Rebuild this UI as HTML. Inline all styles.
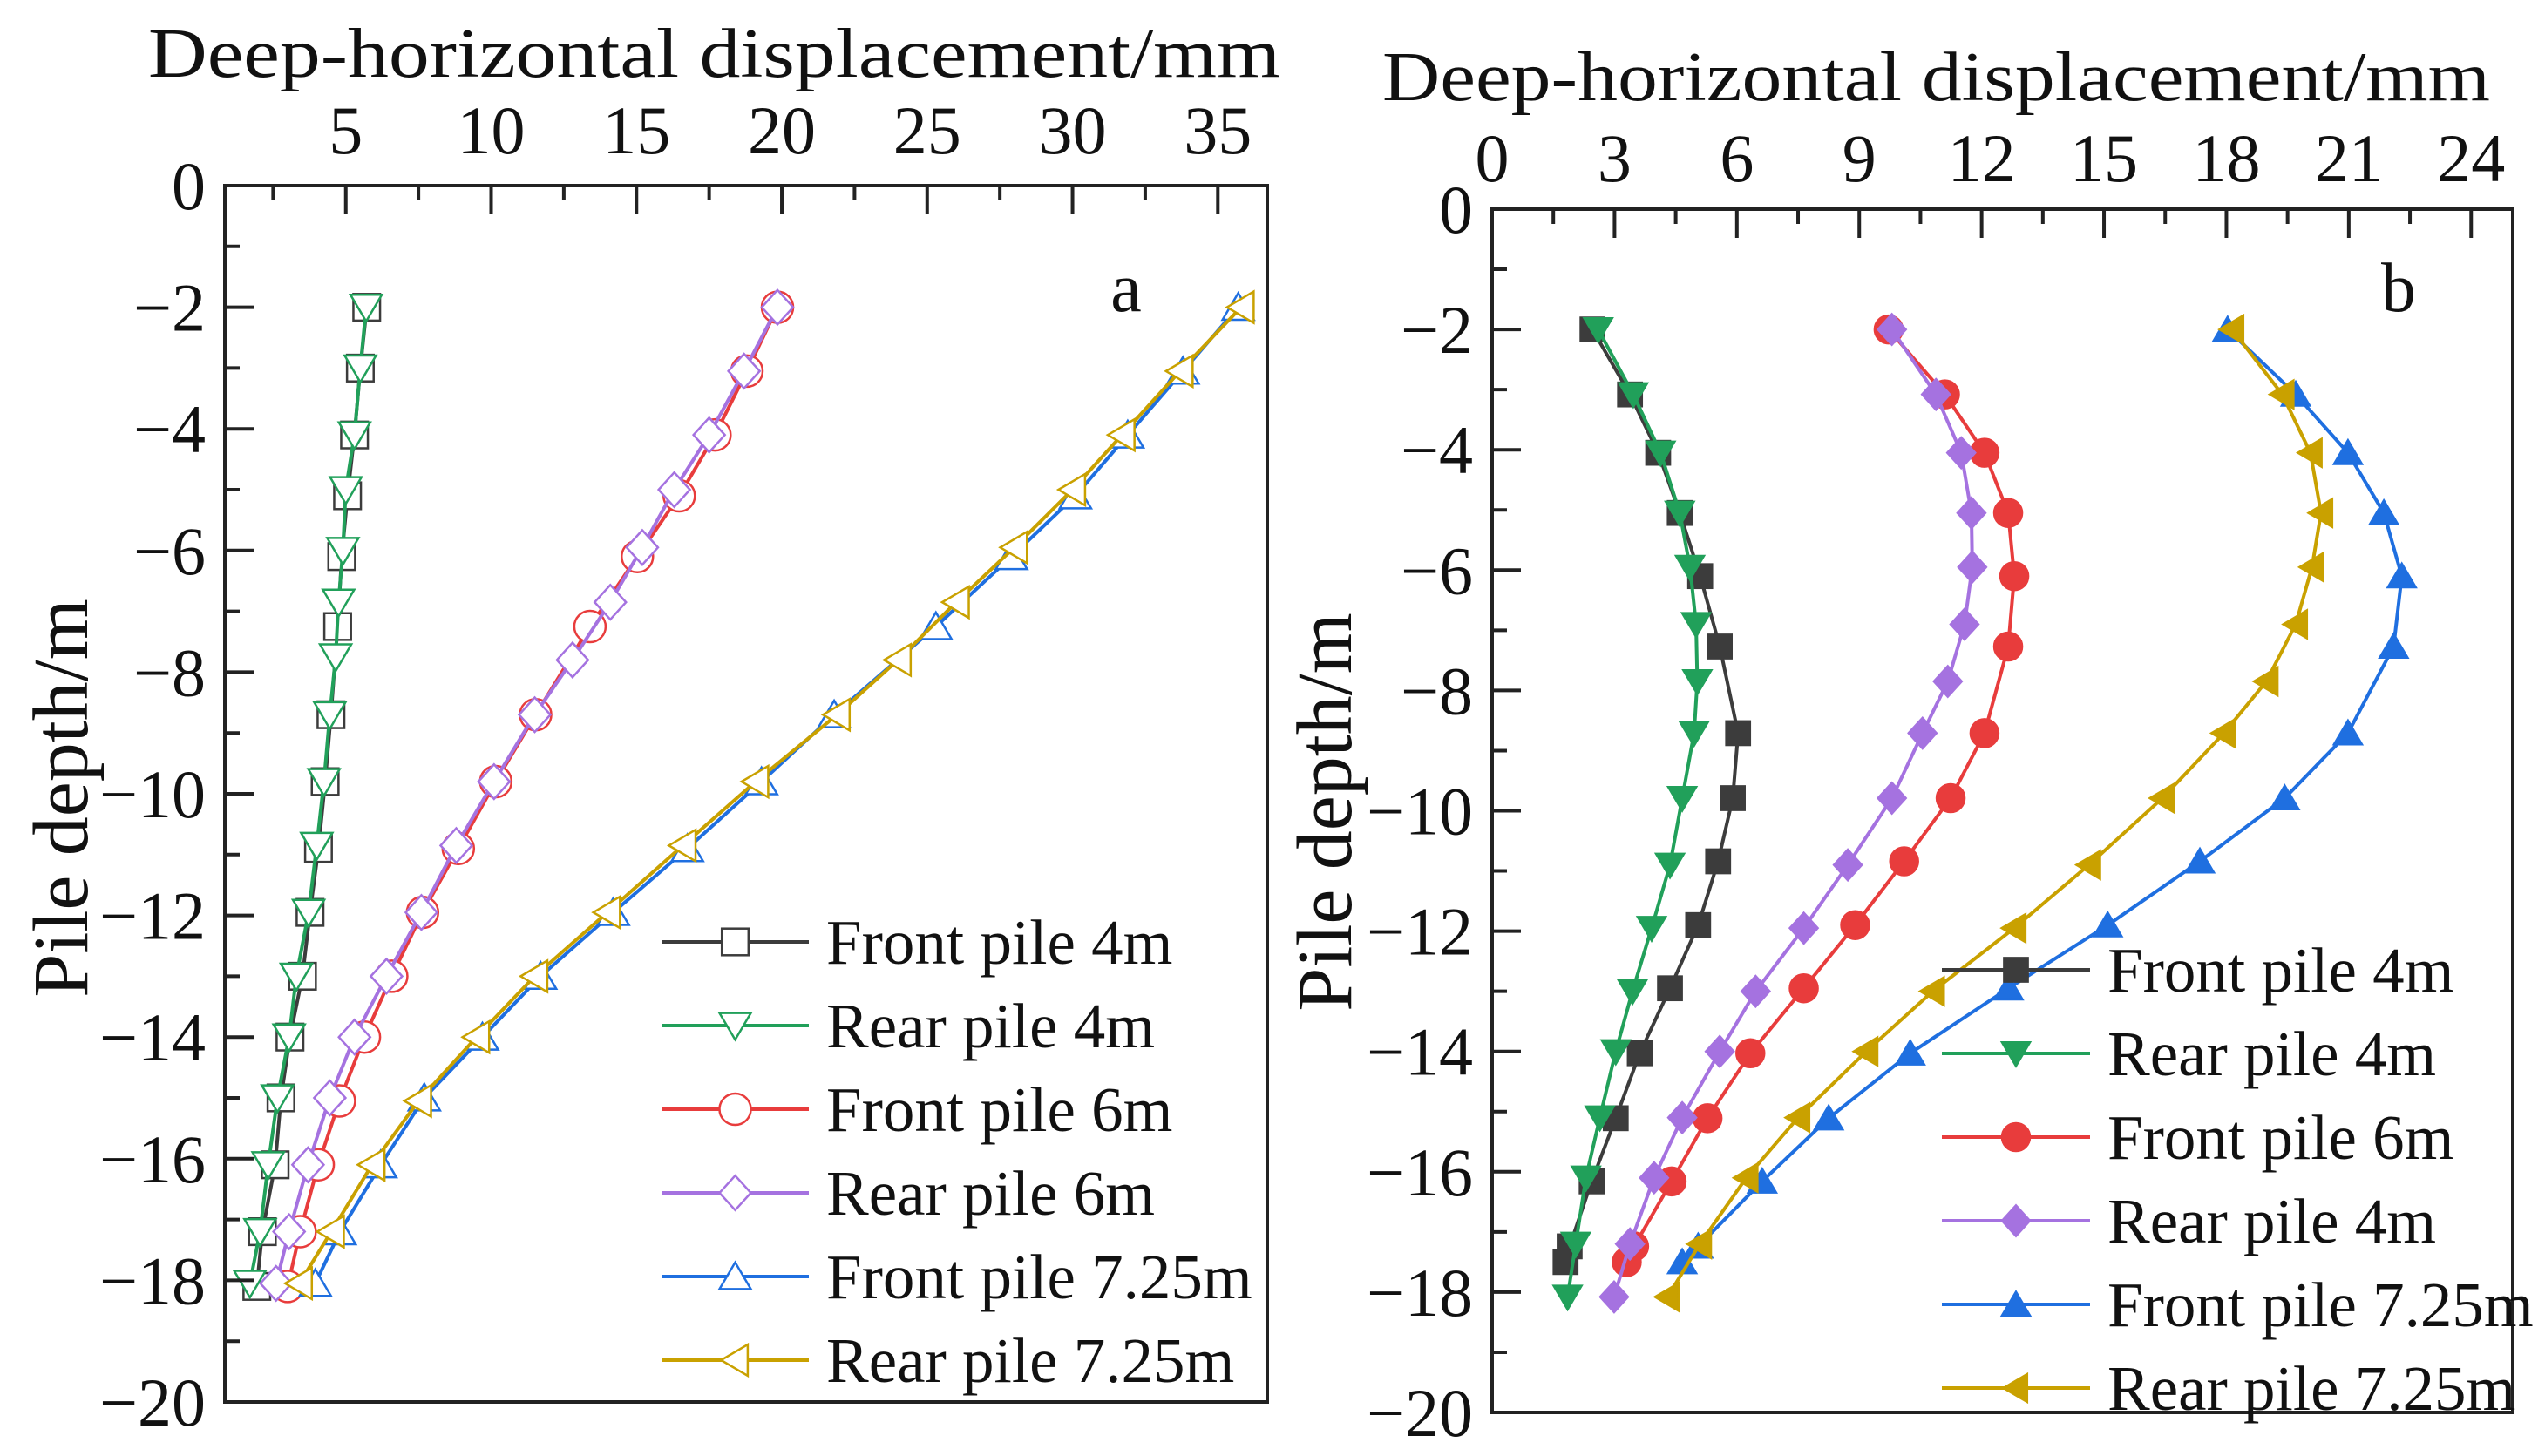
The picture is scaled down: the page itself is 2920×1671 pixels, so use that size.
<!DOCTYPE html>
<html><head><meta charset="utf-8"><style>
html,body{margin:0;padding:0;background:#fff;}
svg text{font-family:"Liberation Serif",serif;fill:#111;}
</style></head><body>
<svg id="chart" width="2920" height="1666" viewBox="0 0 2920 1666" xmlns="http://www.w3.org/2000/svg"></svg>
<script>
// ---------- Panel a data ----------
const aXTicks = [5,10,15,20,25,30,35];
const aYTicks = [0,-2,-4,-6,-8,-10,-12,-14,-16,-18,-20];
const aNames = ["Front pile 4m","Rear pile 4m","Front pile 6m","Rear pile 6m","Front pile 7.25m","Rear pile 7.25m"];
const aFront4Depth = [-2,-3,-4.1,-5.1,-6.1,-7.25,-8.7,-9.8,-10.9,-11.95,-13,-14,-15,-16.1,-17.2,-18.1];
const aFront4 = [5.72,5.5,5.3,5.06,4.86,4.72,4.49,4.29,4.06,3.77,3.51,3.08,2.77,2.57,2.13,1.94];
const aRear4Depth = [-2,-3,-4.1,-5,-6,-6.85,-7.75,-8.7,-9.8,-10.85,-11.95,-13,-14,-15,-16.1,-17.2,-18.05];
const aRear4 = [5.7,5.5,5.3,5.0,4.9,4.75,4.65,4.45,4.25,4.0,3.72,3.3,3.05,2.65,2.33,2.05,1.7];
const aFront6Depth = [-2,-3.05,-4.1,-5.1,-6.1,-7.25,-8.7,-9.8,-10.9,-11.95,-13,-14,-15.05,-16.1,-17.2,-18.1];
const aFront6 = [19.85,18.8,17.7,16.47,15.03,13.4,11.53,10.16,8.87,7.64,6.58,5.64,4.78,4.05,3.43,3.0];
const aRear6Depth = [-2,-3.05,-4.1,-5,-5.95,-6.85,-7.8,-8.7,-9.8,-10.85,-11.95,-13,-14,-15,-16.1,-17.2,-18.05];
const aRear6 = [19.85,18.7,17.5,16.3,15.2,14.1,12.8,11.5,10.1,8.8,7.6,6.4,5.3,4.45,3.7,3.05,2.6];
const aFront7Depth = [-2,-3.05,-4.1,-5.1,-6.1,-7.25,-8.7,-9.8,-10.9,-11.95,-13,-14,-15,-16.1,-17.2,-18.05];
const aFront7 = [35.7,33.8,31.9,30.1,27.9,25.3,21.8,19.3,16.75,14.2,11.7,9.7,7.7,6.2,4.8,3.95];
const aRear7Depth = [-2,-3.05,-4.1,-5,-5.95,-6.85,-7.8,-8.7,-9.8,-10.85,-11.95,-13,-14,-15.05,-16.1,-17.2,-18.05];
const aRear7 = [35.8,33.7,31.7,30.0,28.0,26.0,24.0,21.9,19.1,16.6,14.0,11.5,9.5,7.5,5.9,4.5,3.4];

// ---------- Panel b data ----------
const bXTicks = [0,3,6,9,12,15,18,21,24];
const bYTicks = [0,-2,-4,-6,-8,-10,-12,-14,-16,-18,-20];
const bNames = ["Front pile 4m","Rear pile 4m","Front pile 6m","Rear pile 4m","Front pile 7.25m","Rear pile 7.25m"];
const bDepthA = [-2,-3.08,-4.05,-5.05,-6.1,-7.27,-8.71,-9.79,-10.84,-11.9,-12.95,-14.03,-15.11,-16.16,-17.24,-17.5];
const bDepthB = [-2,-3.08,-4.05,-5.05,-5.95,-6.9,-7.85,-8.71,-9.79,-10.9,-11.95,-13,-14,-15.1,-16.1,-17.2,-18.08];
const bFront4 = [2.46,3.38,4.07,4.6,5.1,5.58,6.03,5.9,5.54,5.05,4.36,3.62,3.03,2.44,1.9,1.8];
const bRear4 = [2.6,3.46,4.13,4.6,4.85,5.0,5.03,4.95,4.66,4.36,3.91,3.44,3.03,2.64,2.3,2.05,1.85];
const bFront6 = [9.72,11.1,12.07,12.65,12.8,12.65,12.07,11.24,10.1,8.9,7.64,6.33,5.28,4.4,3.48,3.3];
const bRear4b = [9.8,10.88,11.5,11.75,11.77,11.58,11.17,10.55,9.8,8.72,7.64,6.46,5.58,4.66,3.97,3.38,2.99];
const bFront7 = [18.03,19.7,20.98,21.86,22.3,22.1,20.98,19.43,17.35,15.09,12.66,10.25,8.25,6.62,5.05,4.66];
const bRear7 = [18.14,19.37,20.06,20.32,20.1,19.7,18.98,17.94,16.43,14.63,12.8,10.8,9.17,7.5,6.23,5.09,4.3];

const NS="http://www.w3.org/2000/svg";
const svg=document.getElementById('chart');
function mk(tag,attrs,parent){const e=document.createElementNS(NS,tag);for(const k in attrs)e.setAttribute(k,attrs[k]);(parent||svg).appendChild(e);return e;}

const colors={black:"#3c3c3c",green:"#21a05a",red:"#e83c3c",purple:"#a572e0",blue:"#1f6fe0",gold:"#c9a100"};

function marker(g,type,cx,cy,col,filled){
  const r=filled?16:18;let e;
  const fill=filled?col:"#fff";
  if(type==="square"){e=mk('rect',{x:cx-r*0.85,y:cy-r*0.85,width:r*1.7,height:r*1.7,fill:fill,stroke:col,'stroke-width':2.5},g);}
  else if(type==="circle"){e=mk('circle',{cx:cx,cy:cy,r:r,fill:fill,stroke:col,'stroke-width':2.5},g);}
  else{
    let p;
    if(type==="down")p=[[cx-r,cy-r*0.8],[cx+r,cy-r*0.8],[cx,cy+r*0.9]];
    else if(type==="up")p=[[cx-r,cy+r*0.8],[cx+r,cy+r*0.8],[cx,cy-r*0.9]];
    else if(type==="left")p=[[cx+r*0.8,cy-r],[cx+r*0.8,cy+r],[cx-r*0.9,cy]];
    else p=[[cx,cy-r*1.1],[cx+r,cy],[cx,cy+r*1.1],[cx-r,cy]];
    e=mk('polygon',{points:p.map(q=>q.join(',')).join(' '),fill:fill,stroke:col,'stroke-width':2.5},g);
  }
  
  
}

function panel(cfg){
  const g=mk('g',{});
  
  
  const X=v=>cfg.L+(v-cfg.xmin)/(cfg.xmax-cfg.xmin)*(cfg.R-cfg.L);
  const Y=v=>cfg.T+(0-v)/20*(cfg.B-cfg.T);
  cfg.series.forEach((s,i)=>{
    const sg=mk('g',{},g);
    
    
    const pts=s.x.map((v,j)=>X(v).toFixed(1)+','+Y(s.y[j]).toFixed(1)).join(' ');
    mk('polyline',{points:pts,fill:'none',stroke:s.col,'stroke-width':4},sg);
    s.x.forEach((v,j)=>marker(sg,s.m,X(v),Y(s.y[j]),s.col,cfg.filled));
  });
  const fr=mk('rect',{x:cfg.L,y:cfg.T,width:cfg.R-cfg.L,height:cfg.B-cfg.T,fill:'none',stroke:'#222','stroke-width':4},g);
  
  
  cfg.xTicks.forEach(v=>{
    mk('line',{x1:X(v),y1:cfg.T,x2:X(v),y2:cfg.T+33,stroke:'#222','stroke-width':4},g);
    const t=mk('text',{x:X(v),y:cfg.xLabY,'font-size':78,'text-anchor':'middle'},g);
    t.textContent=v;
    
    
  });
  for(let v=cfg.xTicks[0]-cfg.xMinor;v<=cfg.xmax;v+=cfg.xMinor*2){
    if(v>cfg.xmin) mk('line',{x1:X(v),y1:cfg.T,x2:X(v),y2:cfg.T+17,stroke:'#222','stroke-width':4},g);
  }
  cfg.yTicks.forEach(v=>{
    mk('line',{x1:cfg.L,y1:Y(v),x2:cfg.L+33,y2:Y(v),stroke:'#222','stroke-width':4},g);
    const t=mk('text',{x:cfg.L-22,y:Y(v)+27,'font-size':78,'text-anchor':'end'},g);
    t.textContent=v===0?"0":"\u2212"+Math.abs(v);
    
    
  });
  for(let v=-1;v>-20;v-=2) mk('line',{x1:cfg.L,y1:Y(v),x2:cfg.L+17,y2:Y(v),stroke:'#222','stroke-width':4},g);
  const xt=mk('text',{x:cfg.xtX,y:cfg.xtY,'font-size':80,textLength:cfg.xtW,lengthAdjust:'spacingAndGlyphs'},g);
  xt.textContent="Deep-horizontal displacement/mm";
  
  
  const yt=mk('text',{x:0,y:0,'font-size':90,'text-anchor':'middle',transform:`translate(${cfg.ytX},${cfg.ytY}) rotate(-90)`},g);
  yt.textContent="Pile depth/m";
  
  
  const pl=mk('text',{x:cfg.letX,y:cfg.letY,'font-size':80,'text-anchor':'middle'},g);
  pl.textContent=cfg.id;
  
  
  const lg=mk('g',{},g);
  
  
  cfg.series.forEach((s,i)=>{
    const y=cfg.legY+i*96;
    const eg=mk('g',{},lg);
    
    
    mk('line',{x1:cfg.legX1,y1:y,x2:cfg.legX2,y2:y,stroke:s.col,'stroke-width':4},eg);
    marker(eg,s.m,(cfg.legX1+cfg.legX2)/2,y,s.col,cfg.filled);
    const t=mk('text',{x:cfg.legX2+20,y:y+25,'font-size':73},eg);
    t.textContent=s.name;
  });
}

panel({id:'a',L:258,R:1454,T:213,B:1609,xmin:0.84,xmax:36.7,xTicks:aXTicks,xMinor:2.5,yTicks:aYTicks,filled:false,
  xLabY:176,xtX:170,xtY:88,xtW:1299,ytX:100,ytY:916,letX:1292,letY:357,legX1:759,legX2:928,legY:1081,
  series:[
    {name:aNames[0],x:aFront4,y:aFront4Depth,col:colors.black,m:'square'},
    {name:aNames[1],x:aRear4,y:aRear4Depth,col:colors.green,m:'down'},
    {name:aNames[2],x:aFront6,y:aFront6Depth,col:colors.red,m:'circle'},
    {name:aNames[3],x:aRear6,y:aRear6Depth,col:colors.purple,m:'diamond'},
    {name:aNames[4],x:aFront7,y:aFront7Depth,col:colors.blue,m:'up'},
    {name:aNames[5],x:aRear7,y:aRear7Depth,col:colors.gold,m:'left'}]});
panel({id:'b',L:1712,R:2883,T:240,B:1621,xmin:0,xmax:25.02,xTicks:bXTicks,xMinor:1.5,yTicks:bYTicks,filled:true,
  xLabY:208,xtX:1586,xtY:115,xtW:1271,ytX:1550,ytY:932,letX:2752,letY:357,legX1:2228,legX2:2398,legY:1113,
  series:[
    {name:bNames[0],x:bFront4,y:bDepthA,col:colors.black,m:'square'},
    {name:bNames[1],x:bRear4,y:bDepthB,col:colors.green,m:'down'},
    {name:bNames[2],x:bFront6,y:bDepthA,col:colors.red,m:'circle'},
    {name:bNames[3],x:bRear4b,y:bDepthB,col:colors.purple,m:'diamond'},
    {name:bNames[4],x:bFront7,y:bDepthA,col:colors.blue,m:'up'},
    {name:bNames[5],x:bRear7,y:bDepthB,col:colors.gold,m:'left'}]});
</script>
</body></html>
